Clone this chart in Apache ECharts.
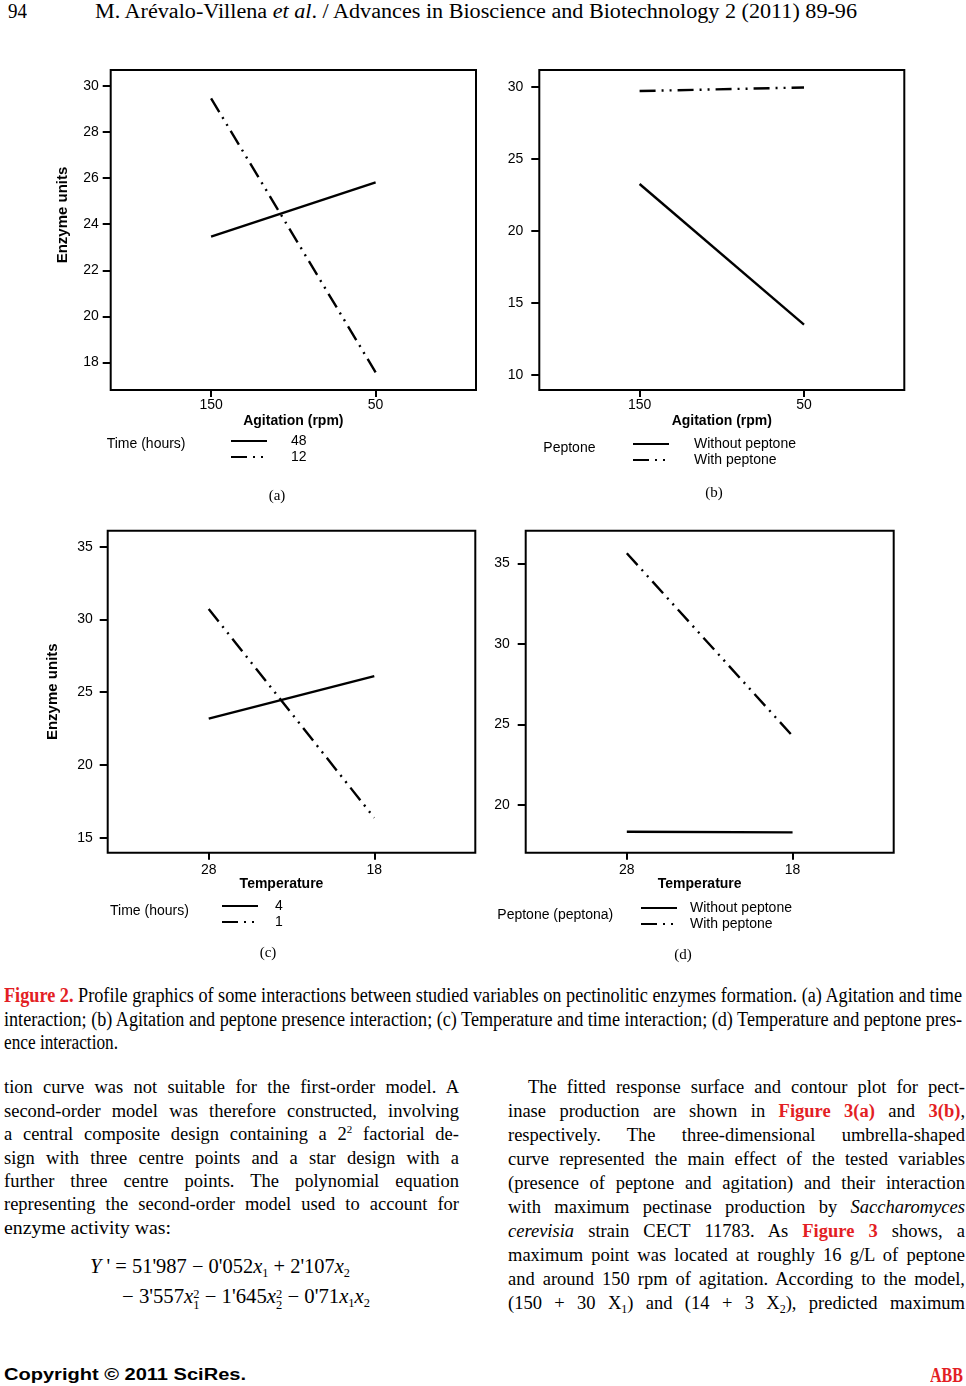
<!DOCTYPE html>
<html><head><meta charset="utf-8">
<script src="https://cdn.jsdelivr.net/npm/echarts@6/dist/echarts.min.js"></script>
<style>
html,body{margin:0;padding:0;background:#fff;}
#page{position:relative;width:966px;height:1386px;overflow:hidden;background:#fff;font-family:"Liberation Serif","Times New Roman",serif;color:#000;}
#chart{position:absolute;left:0;top:0;width:966px;height:980px;}
.ln{position:absolute;white-space:nowrap;}
.ln .t{display:inline-block;transform-origin:0 50%;}
.b18{font-size:18.5px;line-height:22px;height:22px;}
.c20{font-size:20px;line-height:24px;height:24px;}
.red{color:#e31e24;font-weight:bold;}
.sup{font-size:11px;line-height:0;vertical-align:7px;}
.sub{font-size:12px;line-height:0;vertical-align:-4px;}
.stk{display:inline-block;vertical-align:-6px;font-size:12px;line-height:11px;text-align:left;}
</style></head>
<body>
<div id="page">
  <div class="ln c20" style="left:8px;top:-1px" data-w="19"><span class="t">94</span></div>
  <div class="ln c20" style="left:95px;top:-1px" data-w="762"><span class="t">M. Arévalo-Villena <i>et al</i>. / Advances in Bioscience and Biotechnology 2 (2011) 89-96</span></div>

  <div id="chart"></div>

  <div class="ln c20" style="left:4px;top:983px" data-w="958" data-j="1"><span class="t"><span class="red">Figure 2.</span> Profile graphics of some interactions between studied variables on pectinolitic enzymes formation. (a) Agitation and time</span></div>
  <div class="ln c20" style="left:4px;top:1006.5px" data-w="958" data-j="1"><span class="t">interaction; (b) Agitation and peptone presence interaction; (c) Temperature and time interaction; (d) Temperature and peptone pres-</span></div>
  <div class="ln c20" style="left:4px;top:1030px" data-w="114"><span class="t">ence interaction.</span></div>

  <div class="ln b18" style="left:4px;top:1076.2px" data-w="455" data-j="1"><span class="t">tion curve was not suitable for the first-order model. A</span></div>
  <div class="ln b18" style="left:4px;top:1099.6px" data-w="455" data-j="1"><span class="t">second-order model was therefore constructed, involving</span></div>
  <div class="ln b18" style="left:4px;top:1123.1px" data-w="455" data-j="1"><span class="t">a central composite design containing a 2<span class="sup">2</span> factorial de-</span></div>
  <div class="ln b18" style="left:4px;top:1146.5px" data-w="455" data-j="1"><span class="t">sign with three centre points and a star design with a</span></div>
  <div class="ln b18" style="left:4px;top:1170px" data-w="455" data-j="1"><span class="t">further three centre points. The polynomial equation</span></div>
  <div class="ln b18" style="left:4px;top:1193.4px" data-w="455" data-j="1"><span class="t">representing the second-order model used to account for</span></div>
  <div class="ln b18" style="left:4px;top:1216.9px" data-w="167"><span class="t">enzyme activity was:</span></div>

  <div class="ln c20" style="left:90px;top:1254px" data-w="260"><span class="t"><i>Y</i> ' = 51'987 − 0'052<i>x</i><span class="sub">1</span> + 2'107<i>x</i><span class="sub">2</span></span></div>
  <div class="ln c20" style="left:122px;top:1284px" data-w="248"><span class="t">− 3'557<i>x</i><span class="stk">2<br>1</span> − 1'645<i>x</i><span class="stk">2<br>2</span> − 0'71<i>x</i><span class="sub">1</span><i>x</i><span class="sub">2</span></span></div>

  <div class="ln b18" style="left:528px;top:1076.4px" data-w="437" data-j="1"><span class="t">The fitted response surface and contour plot for pect-</span></div>
  <div class="ln b18" style="left:508px;top:1100.3px" data-w="457" data-j="1"><span class="t">inase production are shown in <span class="red">Figure 3(a)</span> and <span class="red">3(b)</span>,</span></div>
  <div class="ln b18" style="left:508px;top:1124.2px" data-w="457" data-j="1"><span class="t">respectively. The three-dimensional umbrella-shaped</span></div>
  <div class="ln b18" style="left:508px;top:1148.2px" data-w="457" data-j="1"><span class="t">curve represented the main effect of the tested variables</span></div>
  <div class="ln b18" style="left:508px;top:1172.1px" data-w="457" data-j="1"><span class="t">(presence of peptone and agitation) and their interaction</span></div>
  <div class="ln b18" style="left:508px;top:1196.1px" data-w="457" data-j="1"><span class="t">with maximum pectinase production by <i>Saccharomyces</i></span></div>
  <div class="ln b18" style="left:508px;top:1220px" data-w="457" data-j="1"><span class="t"><i>cerevisia</i> strain CECT 11783. As <span class="red">Figure 3</span> shows, a</span></div>
  <div class="ln b18" style="left:508px;top:1243.9px" data-w="457" data-j="1"><span class="t">maximum point was located at roughly 16 g/L of peptone</span></div>
  <div class="ln b18" style="left:508px;top:1267.8px" data-w="457" data-j="1"><span class="t">and around 150 rpm of agitation. According to the model,</span></div>
  <div class="ln b18" style="left:508px;top:1291.8px" data-w="457" data-j="1"><span class="t">(150 + 30 X<span class="sub">1</span>) and (14 + 3 X<span class="sub">2</span>), predicted maximum</span></div>

  <div class="ln" style="left:4px;top:1365px;font-family:'Liberation Sans',Arial,sans-serif;font-weight:bold;font-size:16px;line-height:20px;" data-w="242"><span class="t">Copyright © 2011 SciRes.</span></div>
  <div class="ln c20" style="left:930px;top:1363px;color:#e31e24;font-weight:bold;" data-w="33"><span class="t">ABB</span></div>
</div>

<script>
// ---------- data ----------
const xPositions = [0, 1];
const agitationLabels = ['150', '50'];
const temperatureLabels = ['28', '18'];

const yTicksA = [18, 20, 22, 24, 26, 28, 30];
const yTicksB = [10, 15, 20, 25, 30];
const yTicksC = [15, 20, 25, 30, 35];
const yTicksD = [20, 25, 30, 35];

// (a) Agitation x Time
const timeA_48 = [23.46, 25.82];
const timeA_12 = [29.47, 17.57];
// (b) Agitation x Peptone
const peptB_without = [23.25, 13.5];
const peptB_with = [29.7, 29.95];
// (c) Temperature x Time
const timeC_4 = [23.18, 26.11];
const timeC_1 = [30.72, 16.37];
// (d) Temperature x Peptone
const peptD_without = [18.34, 18.30];
const peptD_with = [35.62, 24.28];

// ---------- styling / layout ----------
const SANS = '"Liberation Sans", Arial, sans-serif';
const SERIF = '"Liberation Serif", "Times New Roman", serif';
const DASH = [16, 6, 2, 6, 2, 6];

const panels = [
  { grid: {left: 110.7, top: 70, width: 365.3, height: 320}, cats: agitationLabels,
    xName: 'Agitation (rpm)', xGap: 24, xPad: [0,0,0,0], xMargin: 8,
    yMin: 16.8, yMax: 30.7, yTicks: yTicksA, yMargin: 12, yName: 'Enzyme units', yGap: 40, yPad: [0,0,0,30],
    series: [['48', timeA_48, 'solid'], ['12', timeA_12, DASH]],
    legend: {left: 230, top: 433, pad: 19} },
  { grid: {left: 539.3, top: 70, width: 365, height: 320}, cats: agitationLabels,
    xName: 'Agitation (rpm)', xGap: 24, xPad: [0,0,0,0], xMargin: 8,
    yMin: 8.96, yMax: 31.16, yTicks: yTicksB, yMargin: 16, yName: '', yGap: 40, yPad: [0,0,0,0],
    series: [['Without peptone', peptB_without, 'solid'], ['With peptone', peptB_with, DASH]],
    legend: {left: 632, top: 436, pad: 20} },
  { grid: {left: 107.7, top: 530.7, width: 367.6, height: 322}, cats: temperatureLabels,
    xName: 'Temperature', xGap: 24, xPad: [0,20,0,0], xMargin: 10,
    yMin: 13.97, yMax: 36.1, yTicks: yTicksC, yMargin: 15, yName: 'Enzyme units', yGap: 47, yPad: [0,0,0,0],
    series: [['4', timeC_4, 'solid'], ['1', timeC_1, DASH]],
    legend: {left: 221, top: 898, pad: 12} },
  { grid: {left: 525.7, top: 530.7, width: 368, height: 322}, cats: temperatureLabels,
    xName: 'Temperature', xGap: 24, xPad: [0,20,0,0], xMargin: 10,
    yMin: 17.04, yMax: 37.02, yTicks: yTicksD, yMargin: 16, yName: '', yGap: 40, yPad: [0,0,0,0],
    series: [['Without peptone', peptD_without, 'solid'], ['With peptone', peptD_with, DASH]],
    legend: {left: 640, top: 900, pad: 8} }
];

const grids = [], xAxes = [], yAxes = [], series = [], legends = [];
panels.forEach((p, i) => {
  grids.push(Object.assign({show: true, borderColor: '#000', borderWidth: 2, backgroundColor: 'transparent'}, p.grid));
  xAxes.push({
    type: 'value', gridIndex: i, position: 'bottom', min: -0.61, max: 1.61,
    name: p.xName, nameLocation: 'middle', nameGap: p.xGap,
    nameTextStyle: {fontFamily: SANS, fontSize: 14, fontWeight: 'bold', color: '#000', padding: p.xPad},
    axisLine: {show: false, onZero: false}, splitLine: {show: false},
    axisTick: {show: true, customValues: xPositions, length: 7, lineStyle: {color: '#000', width: 2}},
    axisLabel: {customValues: xPositions, formatter: v => p.cats[Math.round(v)], margin: p.xMargin,
      fontFamily: SANS, fontSize: 14, color: '#000'}
  });
  yAxes.push({
    type: 'value', gridIndex: i, position: 'left', min: p.yMin, max: p.yMax,
    name: p.yName, nameLocation: 'middle', nameGap: p.yGap,
    nameTextStyle: {fontFamily: SANS, fontSize: 15, fontWeight: 'bold', color: '#000', padding: p.yPad},
    axisLine: {show: false, onZero: false}, splitLine: {show: false},
    axisTick: {show: true, customValues: p.yTicks, length: 8, lineStyle: {color: '#000', width: 2}},
    axisLabel: {customValues: p.yTicks, margin: p.yMargin, fontFamily: SANS, fontSize: 14, color: '#000'}
  });
  p.series.forEach(([name, vals, type]) => {
    series.push({
      type: 'line', name, xAxisIndex: i, yAxisIndex: i,
      data: xPositions.map((x, k) => [x, vals[k]]),
      symbol: 'none', showSymbol: false, silent: true,
      lineStyle: {color: '#000', width: 2.4, type: type, cap: 'butt'},
      itemStyle: {color: '#000'},
      emphasis: {disabled: true}
    });
  });
  legends.push({
    data: p.series.map(s => s[0]), orient: 'vertical', left: p.legend.left, top: p.legend.top,
    padding: 0, itemWidth: 36, itemHeight: 10, itemGap: 0, selectedMode: false,
    itemStyle: {color: 'rgba(0,0,0,0)', borderColor: 'rgba(0,0,0,0)', borderWidth: 0},
    textStyle: {fontFamily: SANS, fontSize: 14, color: '#000', lineHeight: 16, padding: [0, 0, 0, p.legend.pad]}
  });
});

const txt = (text, x, y, font, size, align) => ({
  type: 'text', x, y, silent: true,
  style: {text, fontFamily: font, fontSize: size, fill: '#000', align: align, verticalAlign: 'middle'}
});

const option = {
  animation: false,
  backgroundColor: 'transparent',
  grid: grids, xAxis: xAxes, yAxis: yAxes, series, legend: legends,
  graphic: [
    txt('Time (hours)', 106.7, 444, SANS, 14, 'left'),
    txt('Peptone', 543.3, 448, SANS, 14, 'left'),
    txt('Time (hours)', 110, 910.7, SANS, 14, 'left'),
    txt('Peptone (peptona)', 497.3, 915, SANS, 14, 'left'),
    txt('(a)', 277, 496, SERIF, 15, 'center'),
    txt('(b)', 714, 493, SERIF, 15, 'center'),
    txt('(c)', 268, 953, SERIF, 15, 'center'),
    txt('(d)', 683, 955, SERIF, 15, 'center')
  ]
};

const chart = echarts.init(document.getElementById('chart'), null, {renderer: 'canvas'});
chart.setOption(option);

// fit page text lines to the reference line widths
document.querySelectorAll('.ln').forEach(el => {
  const s = el.querySelector('.t');
  const w = +el.dataset.w;
  if (!w) return;
  const nat = s.getBoundingClientRect().width;
  const spaces = (s.textContent.match(/ /g) || []).length;
  if (el.dataset.j && nat < w && spaces > 0) {
    s.style.wordSpacing = ((w - nat) / spaces) + 'px';
  } else {
    s.style.transform = 'scaleX(' + (w / nat) + ')';
  }
});
</script>
</body></html>
